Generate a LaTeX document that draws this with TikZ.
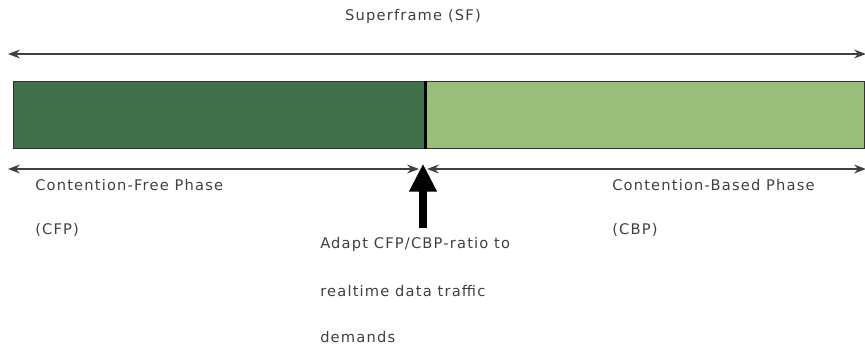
\documentclass[tikz,border=0pt]{standalone}
\usepackage{fontspec}
\setmainfont[LetterSpace=8]{DejaVu Sans}
\usetikzlibrary{arrows.meta}
\begin{document}
\begin{tikzpicture}[x=0.75pt, y=-0.75pt, >=Stealth, font=\fontsize{11}{13}\selectfont,
		every node/.style={text=black!75, inner sep=0pt}]
			\definecolor{darkphase}{RGB}{64, 112, 74}
			\definecolor{lightphase}{RGB}{152, 190, 122}
			\useasboundingbox (0,0) rectangle (865,347);
			% superframe
			\node[anchor=south] (sf) at (413,24) {Superframe (SF)};
			\coordinate (sfL) at (8,54);
			\coordinate (sfR) at (866,54);
			\draw[<->, line width=1.3pt, black!75] (sfL) -- (sfR);
			% phases bar
			\node[draw=black!80, line width=1pt, fill=darkphase, anchor=north west, minimum width=308.25pt, minimum height=50.25pt] (cfp) at (13,81) {};
			\node[draw=black!80, line width=1pt, fill=lightphase, anchor=north west, minimum width=330pt, minimum height=50.25pt] (cbp) at (424,81) {};
			\draw[line width=2pt, black] (cfp.north east) -- (cfp.south east);
			% phase arrows
			\coordinate (cfpL) at (8,169);
			\coordinate (mid) at (423,169);
			\coordinate (cbpR) at (866,169);
			\draw[<->, line width=1.3pt, black!75] (cfpL) -- ([xshift=-3]mid);
			\draw[<->, line width=1.3pt, black!75] ([xshift=3]mid) -- (cbpR);
			\node[anchor=west] (cfptext) at (35,185) {Contention-Free Phase};
			\node[anchor=west] (cfpabbr) at (35,230) {(CFP)};
			\node[anchor=west] (cbptext) at (612,185) {Contention-Based Phase};
			\node[anchor=west] (cbpabbr) at (612,230) {(CBP)};
			% adapt
			\coordinate (adapt) at (423,228);
			\draw[-{Triangle[width=19.5pt, length=21pt]}, line width=6.5pt, black] (adapt) -- ([yshift=4]mid);
			\node[anchor=west] (ad1) at (320,244) {Adapt CFP/CBP-ratio to};
			\node[anchor=west] (ad2) at (320,291) {realtime data traffic};
			\node[anchor=west] (ad3) at (320,337) {demands};
		\end{tikzpicture}
\end{document}
